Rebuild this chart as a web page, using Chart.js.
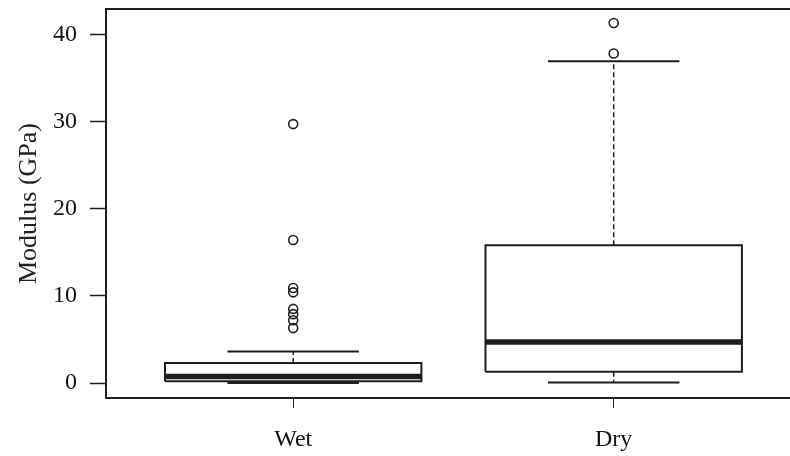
<!DOCTYPE html>
<html lang="en">
<head>
  <meta charset="UTF-8" />
  <title>Modulus boxplot</title>
  <script src="https://cdn.jsdelivr.net/npm/chart.js"></script>
  <style>
    html, body {
      margin: 0;
      overflow: hidden;
      background: #ffffff;
    }

    .wrap {
      width: 790px;
      height: 456px;
    }

    canvas {
      display: block;
    }
  </style>
</head>
<body>
  <div class="wrap">
    <canvas id="boxChart" width="790" height="456"></canvas>
  </div>

  <script>
    // box statistics (GPa)
    const categories = ["Wet", "Dry"];
    const lowerWhisker = [0.0, 0.05];
    const q1 = [0.2, 1.3];
    const median = [0.75, 4.7];
    const q3 = [2.3, 15.8];
    const upperWhisker = [3.6, 36.9];
    const wetOutliers = [29.7, 16.4, 10.9, 10.4, 8.5, 7.9, 7.2, 6.3];
    const dryOutliers = [41.3, 37.8];
    const yTicks = [0, 10, 20, 30, 40];

    const ink = "#1e1e1e";
    const boxHalf = 0.4;
    const capHalf = 0.205;

    function lineSet(points, width, dash) {
      return {
        type: "line",
        data: points,
        borderColor: ink,
        borderWidth: width,
        borderDash: dash || [],
        pointRadius: 0,
        fill: false,
        tension: 0
      };
    }

    const datasets = [];
    categories.forEach((cat, i) => {
      const c = i + 1;
      // box
      datasets.push(lineSet([
        { x: c - boxHalf, y: q1[i] }, { x: c + boxHalf, y: q1[i] },
        { x: c + boxHalf, y: q3[i] }, { x: c - boxHalf, y: q3[i] },
        { x: c - boxHalf, y: q1[i] }
      ], 2));
      // whiskers
      datasets.push(lineSet([{ x: c, y: q3[i] }, { x: c, y: upperWhisker[i] }], 1.5, [5, 3]));
      datasets.push(lineSet([{ x: c, y: q1[i] }, { x: c, y: lowerWhisker[i] }], 1.5, [5, 3]));
      // caps
      datasets.push(lineSet([{ x: c - capHalf, y: upperWhisker[i] }, { x: c + capHalf, y: upperWhisker[i] }], 2));
      datasets.push(lineSet([{ x: c - capHalf, y: lowerWhisker[i] }, { x: c + capHalf, y: lowerWhisker[i] }], 2));
      // median
      datasets.push(lineSet([{ x: c - boxHalf, y: median[i] }, { x: c + boxHalf, y: median[i] }], 5.5));
    });

    const outlierPoints = wetOutliers.map(v => ({ x: 1, y: v }))
      .concat(dryOutliers.map(v => ({ x: 2, y: v })));
    datasets.push({
      type: "scatter",
      data: outlierPoints,
      pointStyle: "circle",
      pointRadius: 4.5,
      borderColor: ink,
      borderWidth: 1.6,
      backgroundColor: "rgba(255,255,255,0)"
    });

    // top frame line, and carry both frame lines to the right edge (plot is cut off there)
    const frameLines = {
      id: "frameLines",
      afterDraw(chart) {
        const a = chart.chartArea;
        const ctx = chart.ctx;
        ctx.save();
        ctx.strokeStyle = ink;
        ctx.lineWidth = 2;
        ctx.beginPath();
        ctx.moveTo(a.left, a.top);
        ctx.lineTo(chart.width, a.top);
        ctx.moveTo(a.right - 1, a.bottom);
        ctx.lineTo(chart.width, a.bottom);
        ctx.stroke();
        ctx.restore();
      }
    };

    const serif = "'Liberation Serif', 'DejaVu Serif', serif";

    new Chart(document.getElementById("boxChart").getContext("2d"), {
      type: "scatter",
      data: { datasets: datasets },
      plugins: [frameLines],
      options: {
        responsive: false,
        animation: false,
        layout: { padding: { top: 9, right: 0, bottom: 0, left: 0 } },
        plugins: {
          legend: { display: false },
          tooltip: { enabled: false }
        },
        scales: {
          x: {
            type: "linear",
            min: 0.416,
            max: 2.531,
            afterBuildTicks: s => { s.ticks = [{ value: 1 }, { value: 2 }]; },
            afterFit: s => {
              s.height = 58;
              s.paddingLeft = 0;
              s.paddingRight = 0;
            },
            grid: {
              drawOnChartArea: false,
              drawTicks: true,
              tickLength: 10,
              tickColor: ink,
              tickWidth: 1
            },
            border: { display: true, color: ink, width: 2 },
            ticks: {
              padding: 17,
              color: "#111",
              font: { family: serif, size: 24 },
              maxRotation: 0,
              callback: v => categories[v - 1]
            }
          },
          y: {
            min: -1.72,
            max: 42.9,
            afterBuildTicks: s => { s.ticks = yTicks.map(v => ({ value: v })); },
            afterFit: s => {
              s.width = 106;
              s.paddingTop = 0;
              s.paddingBottom = 0;
            },
            grid: {
              drawOnChartArea: false,
              drawTicks: true,
              tickLength: 16,
              tickColor: ink,
              tickWidth: 1.5
            },
            border: { display: true, color: ink, width: 2 },
            ticks: {
              padding: 13,
              color: "#111",
              font: { family: serif, size: 24 }
            },
            title: {
              display: true,
              text: "Modulus (GPa)",
              color: "#222",
              font: { family: serif, size: 26 },
              padding: { top: 14, bottom: 0 }
            }
          }
        }
      }
    });
  </script>
</body>
</html>
